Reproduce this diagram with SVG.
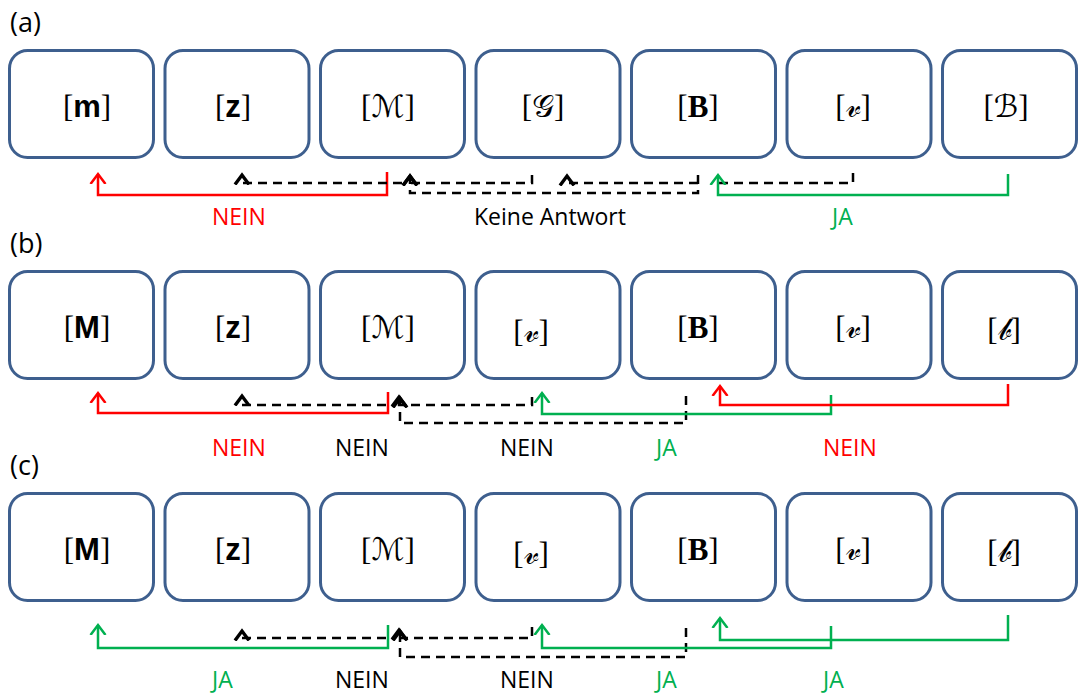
<svg xmlns="http://www.w3.org/2000/svg" width="1079" height="693" viewBox="0 0 1079 693">
  <style>
    .box { fill: #ffffff; stroke: #3e5f8e; stroke-width: 3; }
    .ph { font-family: "Liberation Serif", serif; font-size: 31px; fill: #000; }
    .bs { font-family: "Liberation Sans", sans-serif; font-weight: bold; }
    .bf { font-family: "Liberation Serif", serif; font-weight: bold; }
    .sc { font-family: "DejaVu Serif", "DejaVu Sans", serif; font-weight: normal; }
    .panel { font-family: "Open Sans", sans-serif; font-size: 27px; fill: #000; }
    .lbl { font-family: "Open Sans", sans-serif; font-size: 23px; }
    .red { stroke: #ff0000; stroke-width: 2.5; fill: none; }
    .grn { stroke: #00b050; stroke-width: 2.5; fill: none; }
    .dsh { stroke: #000; stroke-width: 2.5; fill: none; stroke-dasharray: 9 6; }
    .tr { fill: #ff0000; }
    .tg { fill: #00b050; }
    .tk { fill: #000; }
  </style>
  <defs>
    <marker id="ar" markerUnits="userSpaceOnUse" markerWidth="20" markerHeight="20" refX="10" refY="10" orient="auto" viewBox="0 0 20 20">
      <path d="M0,2.5 L10,10 L0,17.5" fill="none" stroke="#ff0000" stroke-width="2.5"/>
    </marker>
    <marker id="ag" markerUnits="userSpaceOnUse" markerWidth="20" markerHeight="20" refX="10" refY="10" orient="auto" viewBox="0 0 20 20">
      <path d="M0,2.5 L10,10 L0,17.5" fill="none" stroke="#00b050" stroke-width="2.5"/>
    </marker>
    <marker id="ak" markerUnits="userSpaceOnUse" markerWidth="20" markerHeight="20" refX="10" refY="10" orient="auto" viewBox="0 0 20 20">
      <path d="M0.5,3 L10,10 L0.5,17" fill="none" stroke="#000" stroke-width="3.4"/>
    </marker>
  </defs>

  <!-- panel letters -->
  <text class="panel" x="10" y="32">(a)</text>
  <text class="panel" x="10" y="253">(b)</text>
  <text class="panel" x="10" y="475">(c)</text>

  <!-- row (a) -->
  <g id="a1"><rect class="box" x="9.5" y="50.5" width="144" height="107" rx="18"/>
    <text class="ph" x="87" y="117" text-anchor="middle">[<tspan class="bs">m</tspan>]</text></g>
  <g id="a2"><rect class="box" x="165" y="50.5" width="144" height="107" rx="18"/>
    <text class="ph" x="233" y="117" text-anchor="middle">[<tspan class="bs">z</tspan>]</text></g>
  <g id="a3"><rect class="box" x="320.5" y="50.5" width="144" height="107" rx="18"/>
    <text class="ph" x="388" y="117" text-anchor="middle">[<tspan class="sc">ℳ</tspan>]</text></g>
  <g id="a4"><rect class="box" x="476" y="50.5" width="144" height="107" rx="18"/>
    <text class="ph" x="543" y="117" text-anchor="middle">[<tspan class="sc">𝒢</tspan>]</text></g>
  <g id="a5"><rect class="box" x="631.5" y="50.5" width="144" height="107" rx="18"/>
    <text class="ph" x="698" y="117" text-anchor="middle">[<tspan class="bf">B</tspan>]</text></g>
  <g id="a6"><rect class="box" x="787" y="50.5" width="144" height="107" rx="18"/>
    <text class="ph" x="853" y="117" text-anchor="middle">[<tspan class="sc">𝓋</tspan>]</text></g>
  <g id="a7"><rect class="box" x="942.5" y="50.5" width="134" height="107" rx="18"/>
    <text class="ph" x="1006" y="117" text-anchor="middle">[<tspan class="sc">ℬ</tspan>]</text></g>

  <!-- row (b) -->
  <g id="b1"><rect class="box" x="9.5" y="271.5" width="144" height="107" rx="18"/>
    <text class="ph" x="87" y="338" text-anchor="middle">[<tspan class="bs">M</tspan>]</text></g>
  <g id="b2"><rect class="box" x="165" y="271.5" width="144" height="107" rx="18"/>
    <text class="ph" x="233" y="338" text-anchor="middle">[<tspan class="bs">z</tspan>]</text></g>
  <g id="b3"><rect class="box" x="320.5" y="271.5" width="144" height="107" rx="18"/>
    <text class="ph" x="388" y="338" text-anchor="middle">[<tspan class="sc">ℳ</tspan>]</text></g>
  <g id="b4"><rect class="box" x="476" y="271.5" width="144" height="107" rx="18"/>
    <text class="ph" x="531" y="342" text-anchor="middle">[<tspan class="sc">𝓋</tspan>]</text></g>
  <g id="b5"><rect class="box" x="631.5" y="271.5" width="144" height="107" rx="18"/>
    <text class="ph" x="698" y="338" text-anchor="middle">[<tspan class="bf">B</tspan>]</text></g>
  <g id="b6"><rect class="box" x="787" y="271.5" width="144" height="107" rx="18"/>
    <text class="ph" x="853" y="338" text-anchor="middle">[<tspan class="sc">𝓋</tspan>]</text></g>
  <g id="b7"><rect class="box" x="942.5" y="271.5" width="134" height="107" rx="18"/>
    <text class="ph" x="1004" y="340" text-anchor="middle">[<tspan class="sc">𝒷</tspan>]</text></g>

  <!-- row (c) -->
  <g id="c1"><rect class="box" x="9.5" y="493.5" width="144" height="107" rx="18"/>
    <text class="ph" x="87" y="560" text-anchor="middle">[<tspan class="bs">M</tspan>]</text></g>
  <g id="c2"><rect class="box" x="165" y="493.5" width="144" height="107" rx="18"/>
    <text class="ph" x="233" y="560" text-anchor="middle">[<tspan class="bs">z</tspan>]</text></g>
  <g id="c3"><rect class="box" x="320.5" y="493.5" width="144" height="107" rx="18"/>
    <text class="ph" x="388" y="560" text-anchor="middle">[<tspan class="sc">ℳ</tspan>]</text></g>
  <g id="c4"><rect class="box" x="476" y="493.5" width="144" height="107" rx="18"/>
    <text class="ph" x="531" y="564" text-anchor="middle">[<tspan class="sc">𝓋</tspan>]</text></g>
  <g id="c5"><rect class="box" x="631.5" y="493.5" width="144" height="107" rx="18"/>
    <text class="ph" x="698" y="560" text-anchor="middle">[<tspan class="bf">B</tspan>]</text></g>
  <g id="c6"><rect class="box" x="787" y="493.5" width="144" height="107" rx="18"/>
    <text class="ph" x="853" y="560" text-anchor="middle">[<tspan class="sc">𝓋</tspan>]</text></g>
  <g id="c7"><rect class="box" x="942.5" y="493.5" width="134" height="107" rx="18"/>
    <text class="ph" x="1004" y="562" text-anchor="middle">[<tspan class="sc">𝒷</tspan>]</text></g>

  <!-- connectors -->
  <g id="connectors">
    <!-- (a) -->
    <path class="red" d="M387,172 V195 H98 V174" marker-end="url(#ar)"/>
    <path class="dsh" d="M402,183 H242 V175" marker-end="url(#ak)"/>
    <path class="dsh" d="M532,175 V183 H410 V176" marker-end="url(#ak)"/>
    <path class="dsh" d="M698,175 V193 H410 V176" marker-end="url(#ak)"/>
    <path class="dsh" d="M698,183 H567 V176" marker-end="url(#ak)"/>
    <path class="dsh" d="M853,173 V183 H718" />
    <path class="grn" d="M1008,174 V195 H718 V175" marker-end="url(#ag)"/>

    <!-- (b) -->
    <path class="red" d="M388,392 V413 H98 V393" marker-end="url(#ar)"/>
    <path class="dsh" d="M386,405 H242 V396" marker-end="url(#ak)"/>
    <path class="dsh" d="M532,397 V405 H399 V397" marker-end="url(#ak)"/>
    <path class="dsh" d="M686,396 V423 H400 V398" marker-end="url(#ak)"/>
    <path class="grn" d="M831,395 V414 H542 V393" marker-end="url(#ag)"/>
    <path class="red" d="M1008,384 V405 H720 V386" marker-end="url(#ar)"/>

    <!-- (c) -->
    <path class="grn" d="M388,625 V648 H98 V625" marker-end="url(#ag)"/>
    <path class="dsh" d="M386,638 H242 V631" marker-end="url(#ak)"/>
    <path class="dsh" d="M532,627 V638 H399 V630" marker-end="url(#ak)"/>
    <path class="dsh" d="M686,628 V657 H400 V631" marker-end="url(#ak)"/>
    <path class="grn" d="M831,626 V648 H542 V625" marker-end="url(#ag)"/>
    <path class="grn" d="M1008,615 V640 H720 V618" marker-end="url(#ag)"/>
  </g>

  <!-- answer labels -->
  <g id="labels">
    <text class="lbl tr" x="212" y="225">NEIN</text>
    <text class="lbl tk" x="474" y="225">Keine Antwort</text>
    <text class="lbl tg" x="832" y="225">JA</text>

    <text class="lbl tr" x="212" y="456">NEIN</text>
    <text class="lbl tk" x="335" y="456">NEIN</text>
    <text class="lbl tk" x="500" y="456">NEIN</text>
    <text class="lbl tg" x="656" y="456">JA</text>
    <text class="lbl tr" x="823" y="456">NEIN</text>

    <text class="lbl tg" x="212" y="688">JA</text>
    <text class="lbl tk" x="335" y="688">NEIN</text>
    <text class="lbl tk" x="500" y="688">NEIN</text>
    <text class="lbl tg" x="656" y="688">JA</text>
    <text class="lbl tg" x="823" y="688">JA</text>
  </g>
</svg>
